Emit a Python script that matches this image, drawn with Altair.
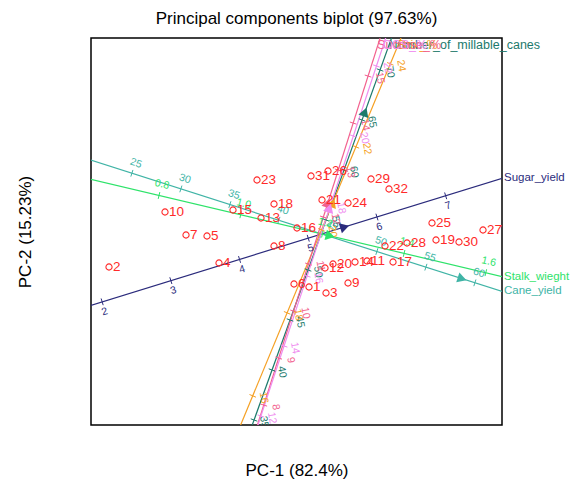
import math
import altair as alt
import pandas as pd

# ---------------- data ----------------
geno_labels = [str(i) for i in range(1, 33)]
pc1 = [-0.13, -2.13, 0.04, -1.03, -1.15, -0.28, -1.36, -0.48, 0.26, -1.57,
       0.45, 0.03, -0.61, 0.33, -0.89, -0.25, 0.71, -0.48, 1.14, 0.11,
       0.00, 0.63, -0.65, 0.26, 1.10, 0.06, 1.61, 0.85, 0.49, 1.37,
       -0.11, 0.67]
pc2 = [-0.53, -0.33, -0.59, -0.29, -0.02, -0.50, -0.01, -0.12, -0.49, 0.22,
       -0.27, -0.34, 0.16, -0.28, 0.24, 0.06, -0.28, 0.30, -0.06, -0.30,
       0.34, -0.12, 0.54, 0.31, 0.11, 0.63, 0.04, -0.09, 0.55, -0.08,
       0.58, 0.45]

trait_names = ["Sugar_yield", "Cane_yield", "Stalk_wieght",
               "Number_of_millable_canes", "Brix_%", "Sucrose_%", "CCS_%"]
# PC displacement per one unit of the trait (calibrated biplot axes)
trait_step_x = [0.687, 0.098, 4.085, 0.036, 0.172, 0.149, 0.1155]
trait_step_y = [0.212, -0.0313, -0.965, 0.100, 0.415, 0.470, 0.350]
# trait value at the biplot origin
trait_center = [5.2, 44.4, 1.199, 53.6, 19.9, 11.64, 17.2]
trait_ticks = [
    [2, 3, 4, 5, 6, 7],
    [25, 30, 35, 40, 45, 50, 55, 60],
    [0.8, 1.0, 1.2, 1.4, 1.6],
    [35, 40, 45, 50, 55, 60, 65, 70],
    [16, 18, 20, 22, 24],
    [8, 9, 10, 11, 12, 13, 14, 15],
    [12, 14, 16, 18, 20, 22],
]
trait_tick_format = ["{:g}", "{:g}", "{:.1f}", "{:g}", "{:g}", "{:g}", "{:g}"]
trait_arrow_value = [5.53, 58.7, 1.219, 65.8, 20.65, 12.3, 17.94]

# ---------------- styles ----------------
trait_colors = ["#2b2b7c", "#40b4a6", "#2ee36a", "#1c7a6c",
                "#f5a023", "#f2608e", "#ef8cef"]
axis_shift = [(0.0, 0.0), (0.0, 0.0), (0.0, 0.0), (-0.01, 0.0),
              (-0.022, 0.0), (-0.04, 0.0), (-0.01, 0.0)]
label_offset = [(0.025, -0.10), (0.04, 0.10), (0.03, 0.11), (0.10, -0.02),
                (0.11, -0.02), (0.12, -0.02), (0.11, -0.02)]
label_angle = [343, 17.7, 13.3, 80, 80, 80, 80]
name_side = ["right", "right", "right", "top", "top", "top", "top"]

XMIN, XMAX = -2.31, 1.80
YMIN, YMAX = -1.91, 1.96
FONT = "Liberation Sans"

lines, ticks, tlabels, arrows, names = [], [], [], [], []
for i, nm in enumerate(trait_names):
    sx, sy = trait_step_x[i], trait_step_y[i]
    norm = math.hypot(sx, sy)
    ux, uy = sx / norm, sy / norm
    px, py = -uy, ux  # perpendicular
    ox, oy = axis_shift[i]
    c = trait_center[i]

    def pos(v):
        return ox + (v - c) * sx, oy + (v - c) * sy

    lines.append(dict(trait=nm, x=ox - 6 * ux, y=oy - 6 * uy,
                      x2=ox + 6 * ux, y2=oy + 6 * uy))
    for v in trait_ticks[i]:
        tx, ty = pos(v)
        h = 0.035
        ticks.append(dict(trait=nm, x=tx - h * px, y=ty - h * py,
                          x2=tx + h * px, y2=ty + h * py))
        tlabels.append(dict(trait=nm, x=tx + label_offset[i][0],
                            y=ty + label_offset[i][1],
                            text=trait_tick_format[i].format(v),
                            angle=label_angle[i]))
    ax_, ay_ = pos(trait_arrow_value[i])
    ang = math.degrees(math.atan2(ux, uy)) % 360
    arrows.append(dict(trait=nm, x=ax_, y=ay_, angle=ang))
    if name_side[i] == "right":
        t = (XMAX - ox) / ux
        names.append(dict(trait=nm, x=XMAX, y=oy + t * uy, side="right"))
    else:
        t = (YMAX - oy) / uy
        names.append(dict(trait=nm, x=ox + t * ux, y=YMAX, side="top"))

geno = pd.DataFrame(dict(label=geno_labels, x=pc1, y=pc2))
lines_df = pd.DataFrame(lines)
ticks_df = pd.DataFrame(ticks)
tl_df = pd.DataFrame(tlabels)
arr_df = pd.DataFrame(arrows)
names_df = pd.DataFrame(names)

xs = alt.Scale(domain=[XMIN, XMAX], nice=False, zero=False)
ys = alt.Scale(domain=[YMIN, YMAX], nice=False, zero=False)
color = alt.Color("trait:N", scale=alt.Scale(domain=trait_names, range=trait_colors),
                  legend=None)

X = alt.X("x:Q", scale=xs, axis=alt.Axis(title="PC-1  (82.4%)", labels=False, ticks=False,
                                         domain=False, grid=False, titlePadding=37,
                                         titleFontSize=17, titleFontWeight="normal",
                                         titleFont=FONT, titleColor="black"))
Y = alt.Y("y:Q", scale=ys, axis=alt.Axis(title="PC-2  (15.23%)", labels=False, ticks=False,
                                         domain=False, grid=False, titlePadding=57,
                                         titleFontSize=17, titleFontWeight="normal",
                                         titleFont=FONT, titleColor="black"))

line_layer = alt.Chart(lines_df).mark_rule(strokeWidth=1.2, clip=True).encode(
    x=X, y=Y, x2="x2:Q", y2="y2:Q", color=color)
tick_layer = alt.Chart(ticks_df).mark_rule(strokeWidth=1, clip=True).encode(
    x="x:Q", y="y:Q", x2="x2:Q", y2="y2:Q", color=color)
tl_layer = alt.Chart(tl_df).mark_text(font=FONT, fontSize=10.5, align="center",
                                      baseline="middle", clip=True).encode(
    x="x:Q", y="y:Q", text="text:N", angle=alt.Angle("angle:Q", scale=None), color=color)
pts = alt.Chart(geno).mark_point(shape="circle", filled=False, size=38, strokeWidth=1.1,
                                 color="#ff2a2a", opacity=1).encode(x="x:Q", y="y:Q")
pt_labels = alt.Chart(geno).mark_text(font=FONT, fontSize=13.5, align="left",
                                      baseline="middle", dx=4, color="#ff2a2a").encode(
    x="x:Q", y="y:Q", text="label:N")
arrow_layer = alt.Chart(arr_df).mark_point(shape="triangle-up", filled=True, size=110,
                                           opacity=1).encode(
    x="x:Q", y="y:Q", angle=alt.Angle("angle:Q", scale=None), color=color)
name_right = alt.Chart(names_df).transform_filter(alt.datum.side == "right").mark_text(
    font=FONT, fontSize=11.5, align="left", baseline="middle", dx=2).encode(
    x="x:Q", y="y:Q", text="trait:N", color=color)
name_top = alt.Chart(names_df).transform_filter(alt.datum.side == "top").mark_text(
    font=FONT, fontSize=12.5, align="left", baseline="middle", dx=-3, dy=7).encode(
    x="x:Q", y="y:Q", text="trait:N", color=color)

chart = alt.layer(line_layer, tick_layer, tl_layer, arrow_layer, pts, pt_labels,
                  name_right, name_top).properties(
    width=411, height=387,
    autosize=alt.AutoSizeParams(type="none"),
    padding={"left": 83, "top": 30, "right": 70, "bottom": 55},
    title=alt.TitleParams("Principal components biplot (97.63%)", fontSize=17,
                          fontWeight="normal", font=FONT, color="black", offset=10,
                          anchor="middle"),
).configure_view(stroke="black", strokeWidth=1.5)

chart.save("out.html", embed_options={"renderer": "svg", "actions": False})
